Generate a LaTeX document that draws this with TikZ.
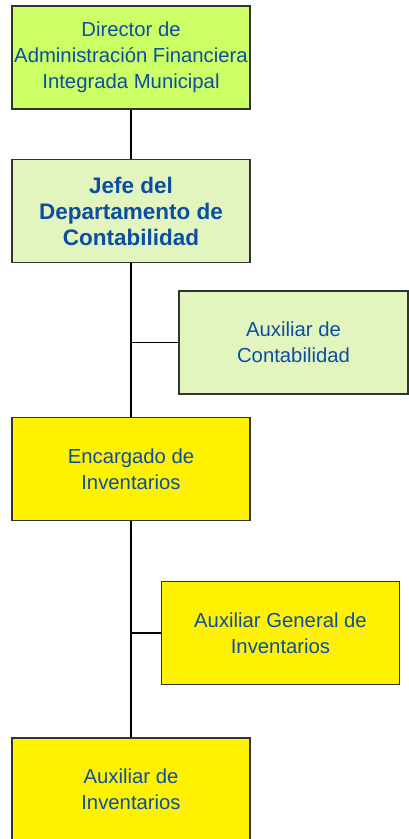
\documentclass[tikz,border=0pt]{standalone}
\usepackage{fontspec}
\setmainfont{Liberation Sans}
\usepackage{xcolor}
\usepackage{tikz}
\definecolor{texto}{HTML}{0B4EA2}
\definecolor{verdeA}{HTML}{CCFF66}
\definecolor{verdeB}{HTML}{E2F5BE}
\definecolor{amarillo}{HTML}{FFF200}
\newcommand*{\largeurBoite}{238}
\newcommand*{\hauteurBoite}{103}
\tikzset{
	boite/.style ={draw=black!80,line width=1.4pt,minimum width=\largeurBoite,minimum height=\hauteurBoite,
		align=center,text=texto,font=\fontsize{20.3}{26}\selectfont,inner sep=0pt},
	vert/.style ={boite,fill=verdeA},
	vertclair/.style ={boite,fill=verdeB},
	jaune/.style ={boite,fill=amarillo},
	lien/.style ={line width=1.4pt,black}
}

\begin{document}
\begin{tikzpicture}[x=1pt,y=-1pt]
	\useasboundingbox (0,0) rectangle (408,839);
	\node[vert] (directeur) at (131,57.5) {Director de\\Administración Financiera\\Integrada Municipal};
	\node[vertclair,font=\fontsize{22.5}{26}\selectfont\bfseries] (chef) at (131,211) {Jefe del\\Departamento de\\Contabilidad};
	\node[vertclair,minimum width=229] (auxcont) at (293.5,342.5) {Auxiliar de\\Contabilidad};
	\node[jaune] (encargado) at (131,469) {Encargado de\\Inventarios};
	\node[jaune] (auxgen) at (280.5,633) {Auxiliar General de\\Inventarios};
	\node[jaune] (auxinv) at (131,789.5) {Auxiliar de\\Inventarios};

	\draw[lien] (directeur) -- (chef);
	\draw[lien] (chef) -- (encargado);
	\draw[lien] (encargado) -- (auxinv);
	\coordinate (c1) at (auxcont.west -| chef.south);
	\coordinate (c2) at (auxgen.west -| encargado.south);
	\draw[lien] (auxcont.west) -- (c1);
	\draw[lien] (auxgen.west) -- (c2);
\end{tikzpicture}
\end{document}
